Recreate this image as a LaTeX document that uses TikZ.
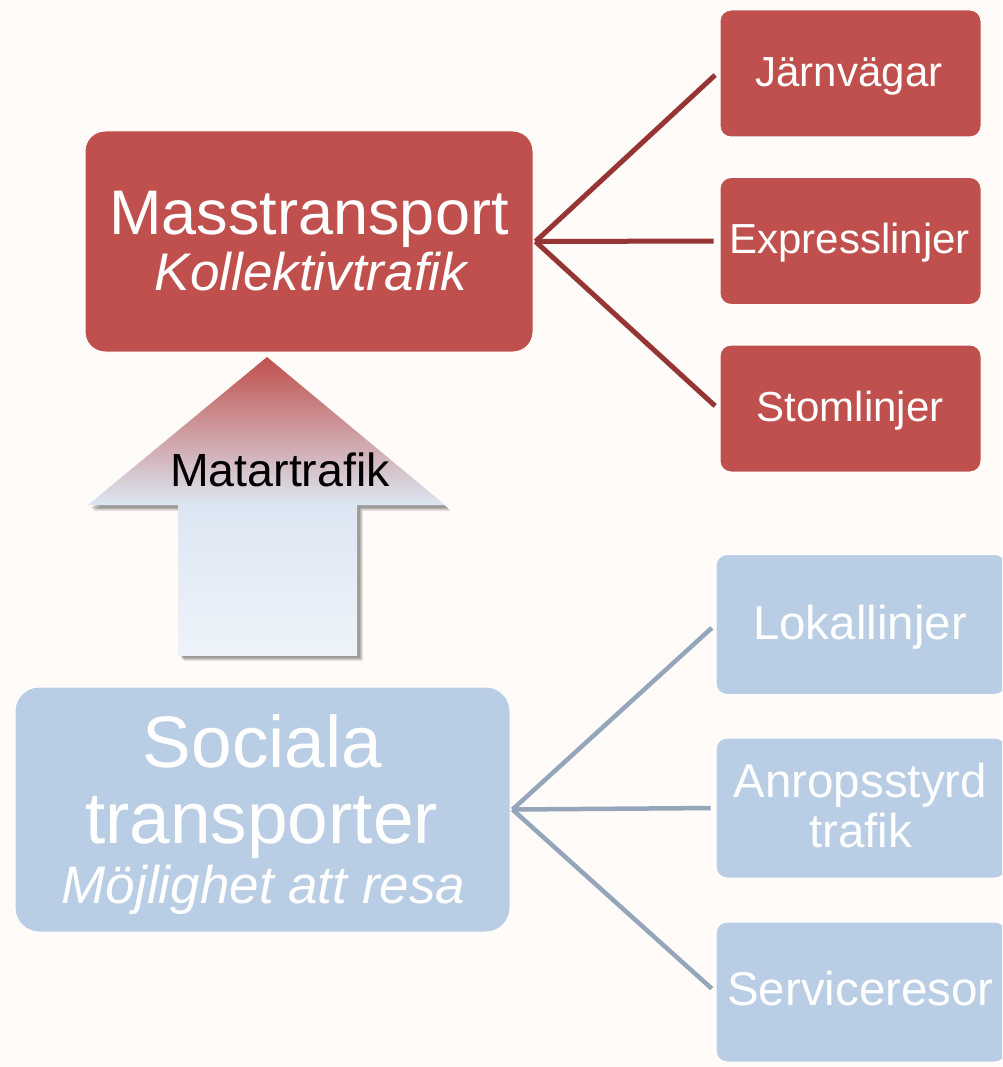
\documentclass[tikz,border=0pt]{standalone}
\usepackage{fontspec}
\setmainfont{Liberation Sans}
\definecolor{bgc}{HTML}{FEFBF8}
\definecolor{redc}{HTML}{C0504D}
\definecolor{redln}{HTML}{963634}
\definecolor{bluec}{HTML}{B9CDE5}
\definecolor{blueln}{HTML}{95A5BA}
\definecolor{lightb}{HTML}{DCE6F2}
\definecolor{paleb}{HTML}{EEF3FA}
\tikzset{
  bigred/.style={rectangle, rounded corners=20pt, fill=redc, draw=white, line width=1pt, inner sep=0pt},
  smallred/.style={rectangle, rounded corners=11pt, fill=redc, draw=white, line width=1pt, inner sep=0pt, minimum width=261pt, minimum height=127pt},
  bigblue/.style={rectangle, rounded corners=24pt, fill=bluec, draw=white, line width=1pt, inner sep=0pt},
  smallblue/.style={rectangle, rounded corners=11pt, fill=bluec, draw=white, line width=1pt, inner sep=0pt, minimum width=290pt, minimum height=140pt},
  lbl/.style={inner sep=0pt, anchor=base, text=white},
  redline/.style={draw=redln, line width=5pt, shorten >=6pt},
  blueline/.style={draw=blueln, line width=4.5pt, shorten >=5pt},
}
\begin{document}
\begin{tikzpicture}[x=1pt,y=-1pt]
\useasboundingbox (0,0) rectangle (1002,1067);
\fill[bgc] (0,0) rectangle (1002,1067);
\clip (0,0) rectangle (1002,1067);

% red group
\node[bigred, minimum width=448pt, minimum height=221pt] (masst) at (309,241.5) {};
\node[lbl, font=\fontsize{63}{63}\selectfont] (tmass) at (309,234) {Masstransport};
\node[lbl, font=\fontsize{53}{53}\selectfont\itshape] (tkoll) at (311,290) {Kollektivtrafik};

\node[smallred] (j1) at (850.5,73.5) {};
\node[smallred] (j2) at (850.5,241) {};
\node[smallred] (j3) at (850.5,408.5) {};
\node[lbl, font=\fontsize{42}{42}\selectfont] (tj1) at (849,87) {Järnvägar};
\node[lbl, font=\fontsize{42}{42}\selectfont] (tj2) at (849.5,253) {Expresslinjer};
\node[lbl, font=\fontsize{42}{42}\selectfont] (tj3) at (850,421.5) {Stomlinjer};

\coordinate (mhub) at ([xshift=2pt]masst.east);
\draw[redline] (mhub) -- ([yshift=2.5pt]j1.west);
\draw[redline] (mhub) -- (j2.west);
\draw[redline] (mhub) -- ([yshift=-1.5pt]j3.west);

% blue group
\node[bigblue, minimum width=495pt, minimum height=245pt] (soc) at (262.5,809.5) {};
\node[lbl, font=\fontsize{73}{73}\selectfont] (tsoc) at (262.5,767) {Sociala};
\node[lbl, font=\fontsize{73}{73}\selectfont] (ttra) at (261.5,843) {transporter};
\node[lbl, font=\fontsize{53}{53}\selectfont\itshape] (tmoj) at (263.5,903) {Möjlighet att resa};

\node[smallblue] (b1) at (861,624.5) {};
\node[smallblue] (b2) at (861,808) {};
\node[smallblue] (b3) at (861,992) {};
\node[lbl, font=\fontsize{47.5}{47.5}\selectfont] (tb1) at (860,639) {Lokallinjer};
\node[lbl, font=\fontsize{47.5}{47.5}\selectfont] (tb2a) at (860.3,797) {Anropsstyrd};
\node[lbl, font=\fontsize{47.5}{47.5}\selectfont] (tb2b) at (860.5,847) {trafik};
\node[lbl, font=\fontsize{47.5}{47.5}\selectfont] (tb3) at (860.5,1005) {Serviceresor};

\coordinate (bhub) at ([xshift=2pt]soc.east);
\draw[blueline] (bhub) -- (b1.west);
\draw[blueline] (bhub) -- (b2.west);
\draw[blueline] (bhub) -- (b3.west);

% up arrow (Matartrafik)
\foreach \d/\o in {6/0.08,5/0.1,4/0.12,3/0.14} {
  \fill[black, opacity=\o] (267+\d*0.5,357+\d) -- (445+\d,505+\d) -- (357+\d,505+\d) -- (357+\d,655+\d) -- (178+\d,655+\d) -- (178+\d,505+\d) -- (88+\d,505+\d) -- cycle;
}
\shade[top color=redc, bottom color=lightb] (267,357) -- (445,505) -- (88,505) -- cycle;
\shade[top color=lightb, bottom color=paleb] (178,504.5) rectangle (357,655);
\node[inner sep=0pt, anchor=base, text=black, font=\fontsize{46.5}{46.5}\selectfont] (tmat) at (280,486.5) {Matartrafik};
\end{tikzpicture}
\end{document}
